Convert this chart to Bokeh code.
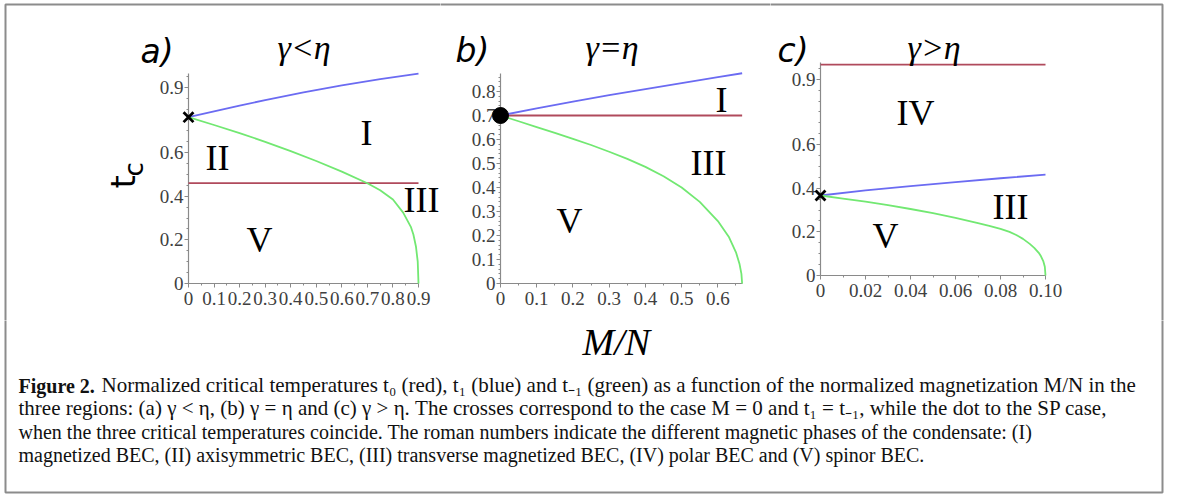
import math
from bokeh.plotting import figure
from bokeh.models import Range1d, FixedTicker
from bokeh.layouts import column, row
from bokeh.embed import file_html
from bokeh.resources import INLINE
from bokeh.core.properties import value

# ---------------- data ----------------
# (a) gamma < eta
a_M_t0 = [0, 0.9]
a_t0 = [0.46, 0.46]
a_M_t1 = [0, 0.1, 0.2, 0.3, 0.45, 0.6, 0.75, 0.9]
a_t1 = [0.763, 0.79, 0.816, 0.841, 0.877, 0.909, 0.937, 0.963]
a_M_tm1 = [0, 0.1, 0.2, 0.3, 0.4, 0.5, 0.6, 0.7, 0.75, 0.8, 0.84, 0.87, 0.88, 0.89, 0.897, 0.9]
a_tm1 = [0.763, 0.727, 0.69, 0.65, 0.607, 0.562, 0.513, 0.46, 0.428, 0.385, 0.325, 0.26, 0.225, 0.17, 0.1, 0.0]
a_cross_M = [0]
a_cross_t = [0.763]

# (b) gamma = eta
b_M_t0 = [0, 0.667]
b_t0 = [0.7, 0.7]
b_M_t1 = [0, 0.1, 0.2, 0.3, 0.4, 0.5, 0.6, 0.667]
b_t1 = [0.7, 0.73, 0.758, 0.785, 0.81, 0.835, 0.86, 0.876]
b_M_tm1 = [0, 0.05, 0.1, 0.15, 0.2, 0.25, 0.3, 0.35, 0.4, 0.45, 0.5, 0.55, 0.6, 0.63, 0.65, 0.66, 0.665, 0.667]
b_tm1 = [0.7, 0.676, 0.652, 0.628, 0.603, 0.577, 0.549, 0.519, 0.486, 0.447, 0.4, 0.34, 0.26, 0.195, 0.13, 0.08, 0.04, 0.0]
b_dot_M = [0]
b_dot_t = [0.7]

# (c) gamma > eta
c_M_t0 = [0, 0.1]
c_t0 = [0.967, 0.967]
c_M_t1 = [0, 0.02, 0.04, 0.06, 0.08, 0.1]
c_t1 = [0.367, 0.39, 0.41, 0.428, 0.446, 0.463]
c_M_tm1 = [0, 0.01, 0.02, 0.03, 0.04, 0.05, 0.06, 0.07, 0.075, 0.08, 0.084, 0.087,
           0.09, 0.093, 0.095, 0.097, 0.098, 0.099, 0.0997, 0.1]
c_tm1 = [0.367, 0.353, 0.339, 0.323, 0.305, 0.286, 0.264, 0.24, 0.228, 0.214, 0.2, 0.186,
         0.168, 0.145, 0.127, 0.104, 0.088, 0.066, 0.04, 0.0]
c_cross_M = [0]
c_cross_t = [0.367]

# tick labels
a_xticks = [0, 0.1, 0.2, 0.3, 0.4, 0.5, 0.6, 0.7, 0.8, 0.9]
a_xlabels = ["0", "0.1", "0.2", "0.3", "0.4", "0.5", "0.6", "0.7", "0.8", "0.9"]
a_yticks = [0, 0.2, 0.4, 0.6, 0.9]
a_ylabels = ["0", "0.2", "0.4", "0.6", "0.9"]
b_xticks = [0, 0.1, 0.2, 0.3, 0.4, 0.5, 0.6]
b_xlabels = ["0", "0.1", "0.2", "0.3", "0.4", "0.5", "0.6"]
b_yticks = [0, 0.1, 0.2, 0.3, 0.4, 0.5, 0.6, 0.7, 0.8]
b_ylabels = ["0", "0.1", "0.2", "0.3", "0.4", "0.5", "0.6", "0.7", "0.8"]
c_xticks = [0, 0.02, 0.04, 0.06, 0.08, 0.1]
c_xlabels = ["0", "0.02", "0.04", "0.06", "0.08", "0.10"]
c_yticks = [0, 0.2, 0.4, 0.6, 0.9]
c_ylabels = ["0", "0.2", "0.4", "0.6", "0.9"]

x_title = "M/N"
caption_bold = "Figure 2."
caption_lines = [
    "Normalized critical temperatures t\u2080 (red), t\u2081 (blue) and t\u208b\u2081 (green) as a function of the normalized magnetization M/N in the",
    "three regions: (a) \u03b3 < \u03b7, (b) \u03b3 = \u03b7 and (c) \u03b3 > \u03b7. The crosses correspond to the case M = 0 and t\u2081 = t\u208b\u2081, while the dot to the SP case,",
    "when the three critical temperatures coincide. The roman numbers indicate the different magnetic phases of the condensate: (I)",
    "magnetized BEC, (II) axisymmetric BEC, (III) transverse magnetized BEC, (IV) polar BEC and (V) spinor BEC.",
]

# ---------------- styles / geometry (page pixels) ----------------
RED = "#b04a5c"
BLUE = "#6b6bf2"
GREEN = "#72e872"
AXIS = "#8a8a8a"
FRAME = "#8c8c8c"
TICKLBL = "#404040"
SERIF = "Liberation Serif"
SANS = "DejaVu Sans"
TOTAL_W = 1170
ROW_H = 320
CAP_H = 174
FR_L, FR_R, FR_T, FR_B = 5, 1162, 4, 492
BASE_FIX = 0.3   # renderer puts the alphabetic baseline ~0.3 em low


def px_of(size):
    return float(size.replace("px", ""))


def make_panel(fig_left, width, frame_left, frame_right, frame_top, frame_bottom,
               xmax, ymax, xt, xl, xminor, yt, yl, yminor):
    p = figure(width=width, height=ROW_H,
               x_range=Range1d(0, xmax), y_range=Range1d(0, ymax),
               output_backend="svg", toolbar_location=None, frame_align=False,
               min_border_left=frame_left - fig_left,
               min_border_right=fig_left + width - frame_right,
               min_border_top=frame_top,
               min_border_bottom=ROW_H - frame_bottom)
    p.outline_line_color = None
    p.grid.visible = False
    p.background_fill_color = "white"
    p.border_fill_color = "white"
    p.xaxis.ticker = FixedTicker(ticks=xt, minor_ticks=xminor)
    p.yaxis.ticker = FixedTicker(ticks=yt, minor_ticks=yminor)
    p.xaxis.major_label_overrides = dict(zip(xt, xl))
    p.yaxis.major_label_overrides = dict(zip(yt, yl))
    for ax in (p.xaxis[0], p.yaxis[0]):
        ax.axis_line_color = AXIS
        ax.axis_line_width = 1.2
        ax.major_tick_line_color = AXIS
        ax.minor_tick_line_color = AXIS
        ax.major_tick_out = 4
        ax.major_tick_in = 0
        ax.minor_tick_out = 2
        ax.minor_tick_in = 0
        ax.major_label_text_font = SERIF
        ax.major_label_text_font_size = "19px"
        ax.major_label_text_color = TICKLBL
    p.xaxis.major_label_standoff = 4
    p.yaxis.major_label_standoff = 1

    def to_data(px, py):
        x = (px - frame_left) / (frame_right - frame_left) * xmax
        y = (frame_bottom - py) / (frame_bottom - frame_top) * ymax
        return x, y

    def label(px, py, text, font, size, style="normal", align="center",
              angle=0.0, color="black"):
        d = BASE_FIX * px_of(size)
        x, y = to_data(px - d * math.sin(angle), py - d * math.cos(angle))
        p.text(x=[x], y=[y], text=[text], text_font=value(font),
               text_font_size=value(size), text_font_style=style,
               text_align=align, text_baseline="alphabetic",
               angle=angle, text_color=color, level="overlay")

    def frame_line(pxs, pys):
        xs, ys = zip(*[to_data(a, b) for a, b in zip(pxs, pys)])
        p.line(list(xs), list(ys), line_color=FRAME, line_width=2, level="overlay")
    return p, label, frame_line


def frange(a, b, s):
    n = int(round((b - a) / s))
    return [round(a + i * s, 4) for i in range(n + 1)]


# panel a
pa, la, fa = make_panel(0, 440, 188, 418, 73, 283, 0.9, 0.9633,
                        a_xticks, a_xlabels, frange(0, 0.9, 0.05),
                        a_yticks, a_ylabels, frange(0, 0.95, 0.05))
pa.line(a_M_t0, a_t0, line_color=RED, line_width=1.8, level="overlay")
pa.line(a_M_t1, a_t1, line_color=BLUE, line_width=1.8, level="overlay")
pa.line(a_M_tm1, a_tm1, line_color=GREEN, line_width=1.8, level="overlay")
pa.scatter(a_cross_M, a_cross_t, marker="x", size=14, line_width=2.8,
           line_color="black", level="overlay")
fa([FR_L, FR_L, 440], [ROW_H, FR_T, FR_T])
la(140, 61, "a)", SANS, "33px", "italic", align="left")
la(277, 57, "\u03b3<\u03b7", SERIF, "34px", "italic", align="left")
la(133, 188, "t", SANS, "34px", angle=math.pi / 2, align="left")
la(141, 176, "c", SANS, "26px", angle=math.pi / 2, align="left")
la(366, 143, "I", SERIF, "36px")
la(217, 168, "II", SERIF, "36px")
la(421, 210, "III", SERIF, "36px")
la(259, 250, "V", SERIF, "36px")

# panel b
pb, lb, fb = make_panel(440, 330, 500, 742, 73, 283, 0.668, 0.875,
                        b_xticks, b_xlabels, frange(0, 0.65, 0.05),
                        b_yticks, b_ylabels, frange(0, 0.86, 0.02))
pb.line(b_M_t0, b_t0, line_color=RED, line_width=1.8, level="overlay")
pb.line(b_M_t1, b_t1, line_color=BLUE, line_width=1.8, level="overlay")
pb.line(b_M_tm1, b_tm1, line_color=GREEN, line_width=1.8, level="overlay")
pb.scatter(b_dot_M, b_dot_t, marker="circle", size=16, fill_color="black",
           line_color="black", level="overlay")
fb([440, 770], [FR_T, FR_T])
lb(455, 60, "b)", SANS, "33px", "italic", align="left")
lb(585, 57, "\u03b3=\u03b7", SERIF, "34px", "italic", align="left")
lb(721, 110, "I", SERIF, "36px")
lb(708, 173, "III", SERIF, "36px")
lb(569, 231, "V", SERIF, "36px")

# panel c
pc, lc, fc = make_panel(770, 400, 820, 1045, 62, 275, 0.1, 0.977,
                        c_xticks, c_xlabels, frange(0, 0.1, 0.01),
                        c_yticks, c_ylabels, frange(0, 0.95, 0.05))
pc.line(c_M_t0, c_t0, line_color=RED, line_width=1.8, level="overlay")
pc.line(c_M_t1, c_t1, line_color=BLUE, line_width=1.8, level="overlay")
pc.line(c_M_tm1, c_tm1, line_color=GREEN, line_width=1.8, level="overlay")
pc.scatter(c_cross_M, c_cross_t, marker="x", size=14, line_width=2.8,
           line_color="black", level="overlay")
fc([770, FR_R, FR_R], [FR_T, FR_T, ROW_H])
lc(777, 60, "c)", SANS, "33px", "italic", align="left")
lc(907, 57, "\u03b3>\u03b7", SERIF, "34px", "italic", align="left")
lc(915, 123, "IV", SERIF, "36px")
lc(1010, 217, "III", SERIF, "36px")
lc(885, 246, "V", SERIF, "36px")

# lower part: shared x title and caption (data coordinates = page pixels)
cap = figure(width=TOTAL_W, height=CAP_H, x_range=Range1d(0, TOTAL_W),
             y_range=Range1d(ROW_H + CAP_H, ROW_H), x_axis_type=None, y_axis_type=None,
             output_backend="svg", toolbar_location=None, min_border=0, frame_align=False)
cap.outline_line_color = None
cap.grid.visible = False
cap.line([FR_L, FR_L, FR_R, FR_R], [ROW_H, FR_B, FR_B, ROW_H],
         line_color=FRAME, line_width=2, level="overlay")


def cap_text(px, py, text, size, style="normal", color="#111111"):
    cap.text(x=[px], y=[py - BASE_FIX * px_of(size)], text=[text], text_font=value(SERIF),
             text_font_style=style, text_font_size=value(size),
             text_baseline="alphabetic", text_color=color, level="overlay")


cap_text(582, 353, x_title, "38px", "italic", color="black")
cap_x0 = 18
cap_base = [391, 414, 437, 460]
cap_size = ["21px", "21px", "20px", "20px"]
cap_text(cap_x0, cap_base[0], caption_bold, "20px", "bold")
for i, line in enumerate(caption_lines):
    cap_text(cap_x0 + (83 if i == 0 else 0), cap_base[i], line, cap_size[i])

layout = column(row(pa, pb, pc), cap)

open("out.html", "w").write(file_html(layout, INLINE))
